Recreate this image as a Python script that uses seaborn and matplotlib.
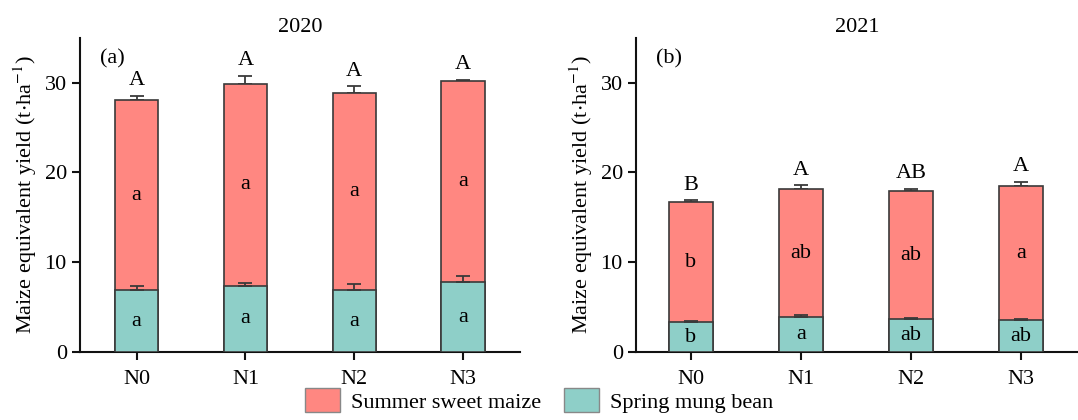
import numpy as np
import pandas as pd
import matplotlib
matplotlib.use("Agg")
import matplotlib.pyplot as plt
from matplotlib.patches import Patch
import seaborn as sns

treatments = ["N0", "N1", "N2", "N3"]

# 2020
mung_2020 = [6.85, 7.40, 6.85, 7.75]
maize_2020 = [21.25, 22.45, 21.95, 22.45]
err_mung_2020 = [0.50, 0.25, 0.70, 0.75]
err_total_2020 = [0.45, 0.90, 0.80, 0.10]
upper_2020 = ["A", "A", "A", "A"]
maize_let_2020 = ["a", "a", "a", "a"]
mung_let_2020 = ["a", "a", "a", "a"]

# 2021
mung_2021 = [3.30, 3.90, 3.70, 3.55]
maize_2021 = [13.40, 14.20, 14.20, 14.90]
err_mung_2021 = [0.20, 0.18, 0.08, 0.07]
err_total_2021 = [0.18, 0.48, 0.30, 0.52]
upper_2021 = ["B", "A", "AB", "A"]
maize_let_2021 = ["b", "ab", "ab", "a"]
mung_let_2021 = ["b", "a", "ab", "ab"]

maize_col = "#FF8781"
mung_col = "#8ECFC8"
edge_col = "#3a3a3a"

sns.set_style("ticks")
plt.rcParams["font.family"] = ["Liberation Serif", "DejaVu Serif"]
plt.rcParams["mathtext.fontset"] = "stix"
plt.rcParams["font.size"] = 14
for k in ["text.color", "axes.labelcolor", "xtick.color", "ytick.color"]:
    plt.rcParams[k] = "black"

fig = plt.figure(figsize=(10.78, 4.2), dpi=100)
ax1 = fig.add_axes([0.0742, 0.162, 0.408, 0.748])
ax2 = fig.add_axes([0.590, 0.162, 0.410, 0.748])

panels = [
    (ax1, "2020", "(a)", mung_2020, maize_2020, err_mung_2020, err_total_2020,
     upper_2020, maize_let_2020, mung_let_2020, (-0.52, 3.52)),
    (ax2, "2021", "(b)", mung_2021, maize_2021, err_mung_2021, err_total_2021,
     upper_2021, maize_let_2021, mung_let_2021, (-0.50, 3.52)),
]

for ax, year, tag, mung, maize, e_mung, e_tot, up, mz_let, mg_let, xl in panels:
    mung = np.array(mung)
    total = mung + np.array(maize)
    df = pd.DataFrame({"trt": treatments, "total": total, "mung": mung})
    sns.barplot(data=df, x="trt", y="total", color=maize_col, saturation=1,
                width=0.4, edgecolor=edge_col, linewidth=1.2, ax=ax, zorder=2)
    sns.barplot(data=df, x="trt", y="mung", color=mung_col, saturation=1,
                width=0.4, edgecolor=edge_col, linewidth=1.2, ax=ax, zorder=3)
    xs = np.arange(len(treatments))
    ax.errorbar(xs, total, yerr=[np.zeros(4), e_tot], fmt="none",
                ecolor=edge_col, elinewidth=1.3, capsize=5, capthick=1.3, zorder=1)
    ax.errorbar(xs, mung, yerr=[np.zeros(4), e_mung], fmt="none",
                ecolor=edge_col, elinewidth=1.3, capsize=5, capthick=1.3, zorder=4)
    for i in range(len(treatments)):
        ax.annotate(up[i], (xs[i], total[i] + e_tot[i]), xytext=(0, 4),
                    textcoords="offset points", ha="center", va="bottom", fontsize=16)
        ax.text(xs[i], (mung[i] + total[i]) / 2, mz_let[i], ha="center",
                va="center", fontsize=16, zorder=5)
        ax.text(xs[i], mung[i] / 2, mg_let[i], ha="center", va="center",
                fontsize=16, zorder=5)
    ax.set_ylim(0, 35)
    ax.set_xlim(*xl)
    ax.set_yticks([0, 10, 20, 30])
    ax.set_xlabel("")
    ax.set_ylabel(r"Maize equivalent yield (t$\cdot$ha$^{-1}$)", fontsize=16,
                  labelpad=4)
    ax.set_title(year, fontsize=16, pad=4)
    ax.text(0.045, 0.965, tag, transform=ax.transAxes, ha="left", va="top",
            fontsize=16)
    sns.despine(ax=ax)
    for s in ["left", "bottom"]:
        ax.spines[s].set_linewidth(1.5)
        ax.spines[s].set_color("#111111")
    ax.tick_params(axis="both", direction="out", width=1.5, length=6,
                   labelsize=16, color="#111111")
    ax.tick_params(axis="x", pad=7)

handles = [Patch(facecolor=maize_col, edgecolor="#888888", label="Summer sweet maize"),
           Patch(facecolor=mung_col, edgecolor="#888888", label="Spring mung bean")]
fig.legend(handles=handles, loc="lower center", bbox_to_anchor=(0.5, -0.03),
           ncol=2, frameon=False, fontsize=16, handlelength=1.6,
           handleheight=1.3, columnspacing=1.0, handletextpad=0.5)

fig.savefig("out.png", dpi=100)
